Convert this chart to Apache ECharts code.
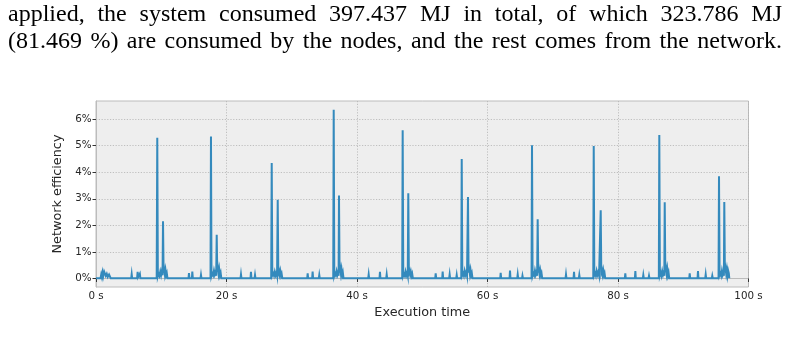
<!DOCTYPE html>
<html>
<head>
<meta charset="utf-8">
<script src="https://cdn.jsdelivr.net/npm/echarts@6/dist/echarts.min.js"></script>
<style>
  html, body { margin: 0; padding: 0; background: #ffffff; }
  #wrap { position: relative; width: 787px; height: 338px; overflow: hidden; }
  .line { position: absolute; left: 8px; width: 774px; font-family: "Liberation Serif", serif; font-size: 24px; line-height: 27px; color: #000; text-align: justify; text-align-last: justify; white-space: nowrap; }
  #chart { position: absolute; left: 0; top: 0; width: 787px; height: 338px; }
</style>
</head>
<body>
<div id="wrap">
  <div id="chart"></div>
  <div class="line" style="top:0px;">applied, the system consumed 397.437 MJ in total, of which 323.786 MJ</div>
  <div class="line" style="top:27px;">(81.469 %) are consumed by the nodes, and the rest comes from the network.</div>
</div>
<script>
// Text content
const yAxisTitle = 'Network efficiency';
const xAxisTitle = 'Execution time';
const xTicks = [0, 20, 40, 60, 80, 100];
const yTicks = [0, 1, 2, 3, 4, 5, 6];

// Measured series: [execution time (s), network efficiency (%)]
const samplesA = [
  [0,0.01],[0.7,0.01],[0.8,0.15],[0.9,0.05],[1.0,0.22],[1.1,0.08],[1.25,0.26],[1.38,0.3],[1.5,0.1],[1.65,0.18],[1.8,0.06],[2.0,0.15],[2.15,0.22],[2.25,0.01],
  [5.4,0.01],[5.47,0.16],[5.54,0.01],
  [6.3,0.01],[6.38,0.25],[6.46,0.05],[6.6,0.02],[6.72,0.18],[6.8,0.01],
  [7.95,0.01],[8.02,0.07],[8.1,0.01],
  [9.3,0.01],[9.39,5.30],[9.48,0.08],[9.6,0.18],[9.72,0.1],[9.85,0.26],[9.97,0.12],[10.1,0.3],[10.2,0.12],[10.27,2.15],[10.36,0.22],[10.45,0.35],[10.55,0.15],[10.65,0.32],[10.75,0.12],[10.85,0.2],[10.95,0.01],
  [14.18,0.01],[14.25,0.2],[14.32,0.01],[14.7,0.01],[14.76,0.26],[14.84,0.01],
  [16.02,0.01],[16.09,0.13],[16.16,0.01],
  [17.05,0.01],[17.11,0.08],[17.18,0.01],
  [17.55,0.01],[17.62,5.34],[17.7,0.1],[17.82,0.2],[17.95,0.12],[18.08,0.3],[18.2,0.15],[18.32,0.25],[18.42,0.1],[18.5,1.65],[18.58,0.25],[18.68,0.4],[18.78,0.18],[18.88,0.35],[18.98,0.12],[19.1,0.22],[19.2,0.01]
];
const samplesB = [
  [22.15,0.01],[22.22,0.15],[22.29,0.01],
  [23.68,0.01],[23.75,0.25],[23.82,0.01],
  [24.3,0.01],[24.37,0.13],[24.44,0.01],
  [24.96,0.01],[25.03,0.07],[25.1,0.01],
  [26.85,0.01],[26.93,4.35],[27.02,0.12],[27.15,0.2],[27.28,0.1],[27.4,0.25],[27.52,0.12],[27.65,0.22],[27.75,0.1],[27.85,2.96],[27.94,0.2],[28.04,0.3],[28.14,0.15],[28.24,0.28],[28.35,0.1],[28.45,0.18],[28.55,0.01],
  [32.37,0.01],[32.44,0.19],[32.51,0.01],
  [33.13,0.01],[33.2,0.26],[33.27,0.01],
  [34.15,0.01],[34.22,0.13],[34.29,0.01],
  [35.53,0.01],[35.6,0.07],[35.67,0.01],
  [36.36,0.01],[36.43,6.35],[36.52,0.1],[36.64,0.2],[36.76,0.12],[36.88,0.28],[37.0,0.14],[37.12,0.25],[37.18,0.1],[37.24,3.12],[37.33,0.22],[37.43,0.4],[37.53,0.18],[37.63,0.35],[37.73,0.12],[37.83,0.22],[37.93,0.01],
  [41.72,0.01],[41.79,0.15],[41.86,0.01],
  [43.45,0.01],[43.52,0.25],[43.59,0.01],
  [44.48,0.01],[44.55,0.15],[44.62,0.01],
  [45.24,0.01],[45.31,0.07],[45.38,0.01],
  [46.93,0.01],[47.0,5.58],[47.09,0.1],[47.2,0.18],[47.32,0.1],[47.44,0.26],[47.56,0.12],[47.68,0.22],[47.78,0.1],[47.86,3.21],[47.95,0.2],[48.05,0.28],[48.15,0.14],[48.25,0.26],[48.36,0.1],[48.46,0.18],[48.56,0.01]
];
const samplesC = [
  [51.99,0.01],[52.06,0.19],[52.13,0.01],
  [53.06,0.01],[53.13,0.26],[53.2,0.01],
  [54.13,0.01],[54.2,0.15],[54.27,0.01],
  [55.21,0.01],[55.28,0.13],[55.35,0.01],
  [55.98,0.01],[56.05,4.5],[56.14,0.12],[56.26,0.2],[56.38,0.1],[56.5,0.28],[56.62,0.14],[56.74,0.24],[56.86,0.1],[57.01,3.07],[57.1,0.22],[57.2,0.35],[57.3,0.16],[57.4,0.32],[57.5,0.12],[57.6,0.2],[57.7,0.01],
  [61.95,0.01],[62.02,0.21],[62.09,0.01],
  [63.38,0.01],[63.45,0.3],[63.52,0.01],
  [64.56,0.01],[64.63,0.15],[64.7,0.01],
  [65.3,0.01],[65.36,0.1],[65.43,0.01],
  [66.75,0.01],[66.82,5.01],[66.91,0.1],[67.03,0.2],[67.15,0.12],[67.27,0.3],[67.39,0.14],[67.51,0.25],[67.61,0.1],[67.69,2.23],[67.78,0.22],[67.88,0.35],[67.98,0.16],[68.08,0.3],[68.18,0.12],[68.28,0.2],[68.38,0.01],
  [71.96,0.01],[72.03,0.15],[72.1,0.01],
  [73.19,0.01],[73.26,0.25],[73.33,0.01],
  [74.0,0.01],[74.07,0.13],[74.14,0.01],
  [75.13,0.01],[75.2,0.06],[75.27,0.01],
  [76.21,0.01],[76.28,4.99],[76.37,0.12],[76.49,0.2],[76.61,0.1],[76.73,0.28],[76.85,0.14],[76.97,0.24],[77.1,0.1],[77.35,2.57],[77.44,0.22],[77.54,0.32],[77.64,0.15],[77.74,0.3],[77.84,0.12],[77.94,0.2],[78.04,0.01]
];
const samplesD = [
  [81.05,0.01],[81.12,0.19],[81.19,0.01],
  [82.59,0.01],[82.66,0.28],[82.73,0.01],
  [83.81,0.01],[83.88,0.13],[83.95,0.01],
  [84.68,0.01],[84.75,0.1],[84.82,0.01],
  [86.26,0.01],[86.33,5.4],[86.42,0.12],[86.54,0.22],[86.66,0.1],[86.78,0.28],[86.9,0.14],[87.02,0.25],[87.1,0.1],[87.16,2.87],[87.25,0.24],[87.35,0.4],[87.45,0.18],[87.55,0.36],[87.65,0.12],[87.75,0.22],[87.85,0.01],
  [90.92,0.01],[90.99,0.19],[91.06,0.01],
  [92.19,0.01],[92.26,0.28],[92.33,0.01],
  [93.37,0.01],[93.44,0.15],[93.51,0.01],
  [94.38,0.01],[94.45,0.1],[94.52,0.01],
  [95.41,0.01],[95.48,3.85],[95.57,0.12],[95.69,0.2],[95.81,0.1],[95.93,0.3],[96.05,0.14],[96.17,0.25],[96.23,0.1],[96.29,2.88],[96.38,0.24],[96.48,0.38],[96.58,0.18],[96.68,0.35],[96.78,0.12],[96.88,0.3],[96.98,0.2],[97.06,0.01]
];

const seriesData = samplesA.concat(samplesB, samplesC, samplesD);

const chart = echarts.init(document.getElementById('chart'), null, { renderer: 'canvas' });
const labelFont = { fontFamily: 'DejaVu Sans', fontSize: 10.3, color: '#262626' };
const titleFont = { fontFamily: 'DejaVu Sans', fontSize: 12.8, color: '#262626' };
const gridLine = { show: true, lineStyle: { color: '#b2b2b2', type: [1.2, 1.6], width: 0.8 } };

chart.setOption({
  animation: false,
  backgroundColor: '#ffffff',
  grid: { left: 96, top: 101, width: 652.5, height: 186, show: true, backgroundColor: '#eeeeee', borderColor: '#bcbcbc', borderWidth: 1, containLabel: false },
  xAxis: {
    type: 'value', min: 0, max: 100, interval: 20,
    name: xAxisTitle, nameLocation: 'middle', nameGap: 18,
    nameTextStyle: titleFont,
    axisLine: { show: true, lineStyle: { color: '#bcbcbc', width: 1 } },
    axisTick: { show: true, length: 3.5, lineStyle: { color: '#333333', width: 1 }, customValues: xTicks },
    axisLabel: Object.assign({ margin: 4.5, formatter: '{value} s', showMinLabel: true, showMaxLabel: true, customValues: xTicks }, labelFont),
    splitLine: gridLine
  },
  yAxis: {
    type: 'value', min: -0.32, max: 6.68,
    name: yAxisTitle, nameLocation: 'middle', nameGap: 23,
    nameTextStyle: titleFont,
    axisLine: { show: true, lineStyle: { color: '#bcbcbc', width: 1 } },
    axisTick: { show: true, length: 3.5, lineStyle: { color: '#333333', width: 1 }, customValues: yTicks },
    axisLabel: Object.assign({ margin: 4.5, formatter: function (v) { return Math.round(v) + '%'; }, customValues: yTicks }, labelFont),
    splitLine: gridLine
  },
  series: [{
    type: 'line',
    data: seriesData,
    showSymbol: false,
    symbol: 'none',
    sampling: null,
    lineStyle: { color: '#348ABD', width: 2, join: 'miter' },
    z: 3
  }]
});
</script>
</body>
</html>
